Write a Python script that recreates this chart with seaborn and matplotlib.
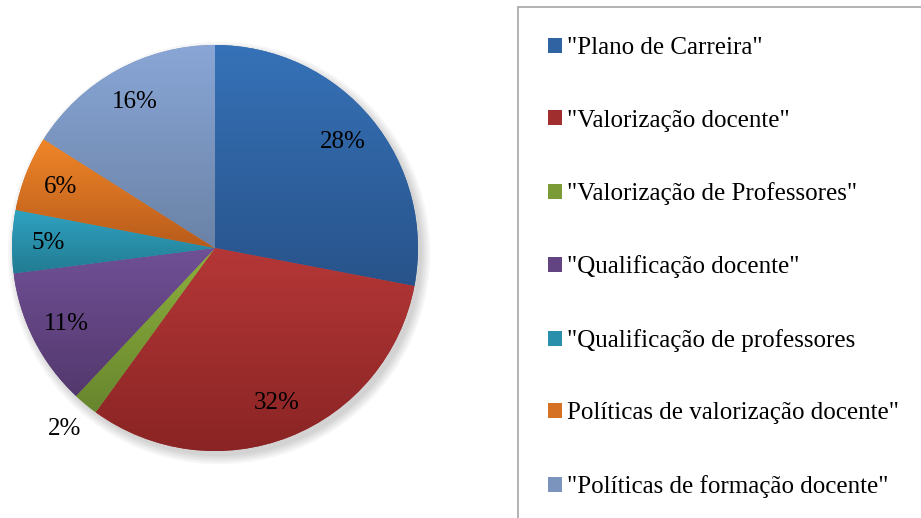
import numpy as np
import matplotlib
matplotlib.use("Agg")
import matplotlib.pyplot as plt
import seaborn as sns
from matplotlib.colors import to_rgb
from matplotlib.patches import Circle, Rectangle

categories = ['"Plano de Carreira"', '"Valorização docente"', '"Valorização de Professores"',
              '"Qualificação docente"', '"Qualificação de professores',
              'Políticas de valorização docente"', '"Políticas de formação docente"']
shares = [28, 32, 2, 11, 5, 6, 16]
top_colors = ["#3672b8", "#b53737", "#8db03e", "#705096", "#30a2c2", "#f08628", "#89a6d6"]
bottom_colors = ["#28538a", "#8a2424", "#68862e", "#53386d", "#227c92", "#b85b1b", "#6a82a6"]

sns.set_theme(style="white")
plt.rcParams["font.family"] = ["Liberation Serif", "DejaVu Serif"]
plt.rcParams["text.color"] = "black"

fig = plt.figure(figsize=(9.21, 5.18), dpi=100)
ax = fig.add_axes([12 / 921, 67 / 518, 406 / 921, 406 / 518])

mid_colors = [tuple((np.array(to_rgb(t)) + np.array(to_rgb(b))) / 2) for t, b in zip(top_colors, bottom_colors)]
wedges, texts, pcts = ax.pie(shares, colors=mid_colors, startangle=90, counterclock=False,
                             autopct="%1.0f%%", pctdistance=0.82,
                             textprops={"fontsize": 18, "color": "black"},
                             wedgeprops={"linewidth": 0})

# soft shadow behind the pie
for i in range(5):
    ax.add_patch(Circle((0.02, -0.025), 1.0 + 0.01 * i, color="black", alpha=0.035,
                        zorder=0, lw=0, clip_on=False))

# vertical gradient per slice
for w, t, b in zip(wedges, top_colors, bottom_colors):
    ext = w.get_path().get_extents()
    grad = np.linspace(0, 1, 256)[:, None, None]
    img = (1 - grad) * np.array(to_rgb(t)) + grad * np.array(to_rgb(b))
    im = ax.imshow(img, extent=[ext.x0, ext.x1, ext.y0, ext.y1], origin="upper",
                   aspect="auto", zorder=2, interpolation="bilinear")
    im.set_clip_path(w)
    w.set_zorder(1)

for t in pcts:
    t.set_zorder(5)

# the 2% label sits outside the pie
small = pcts[2]
x, y = small.get_position()
r = np.hypot(x, y)
small.set_position((x / r * 1.16, y / r * 1.16))

ax.set_xlim(-1, 1)
ax.set_ylim(-1, 1)
ax.set_aspect("equal")
ax.axis("off")

fig.patches.append(Rectangle((518 / 921, -0.02), 0.5, 1 - 7 / 518 + 0.02, transform=fig.transFigure,
                             fill=False, edgecolor="#a6a6a6", linewidth=1.2))

leg = fig.legend(wedges, categories, loc="upper left", bbox_to_anchor=(538 / 921, 1 - 27 / 518),
                 frameon=False, fontsize=18, labelspacing=2.02, handlelength=0.55, handleheight=0.55,
                 handletextpad=0.2, borderaxespad=0)
for t in leg.get_texts():
    t.set_color("black")

fig.savefig("out.png", dpi=100, facecolor="white")
